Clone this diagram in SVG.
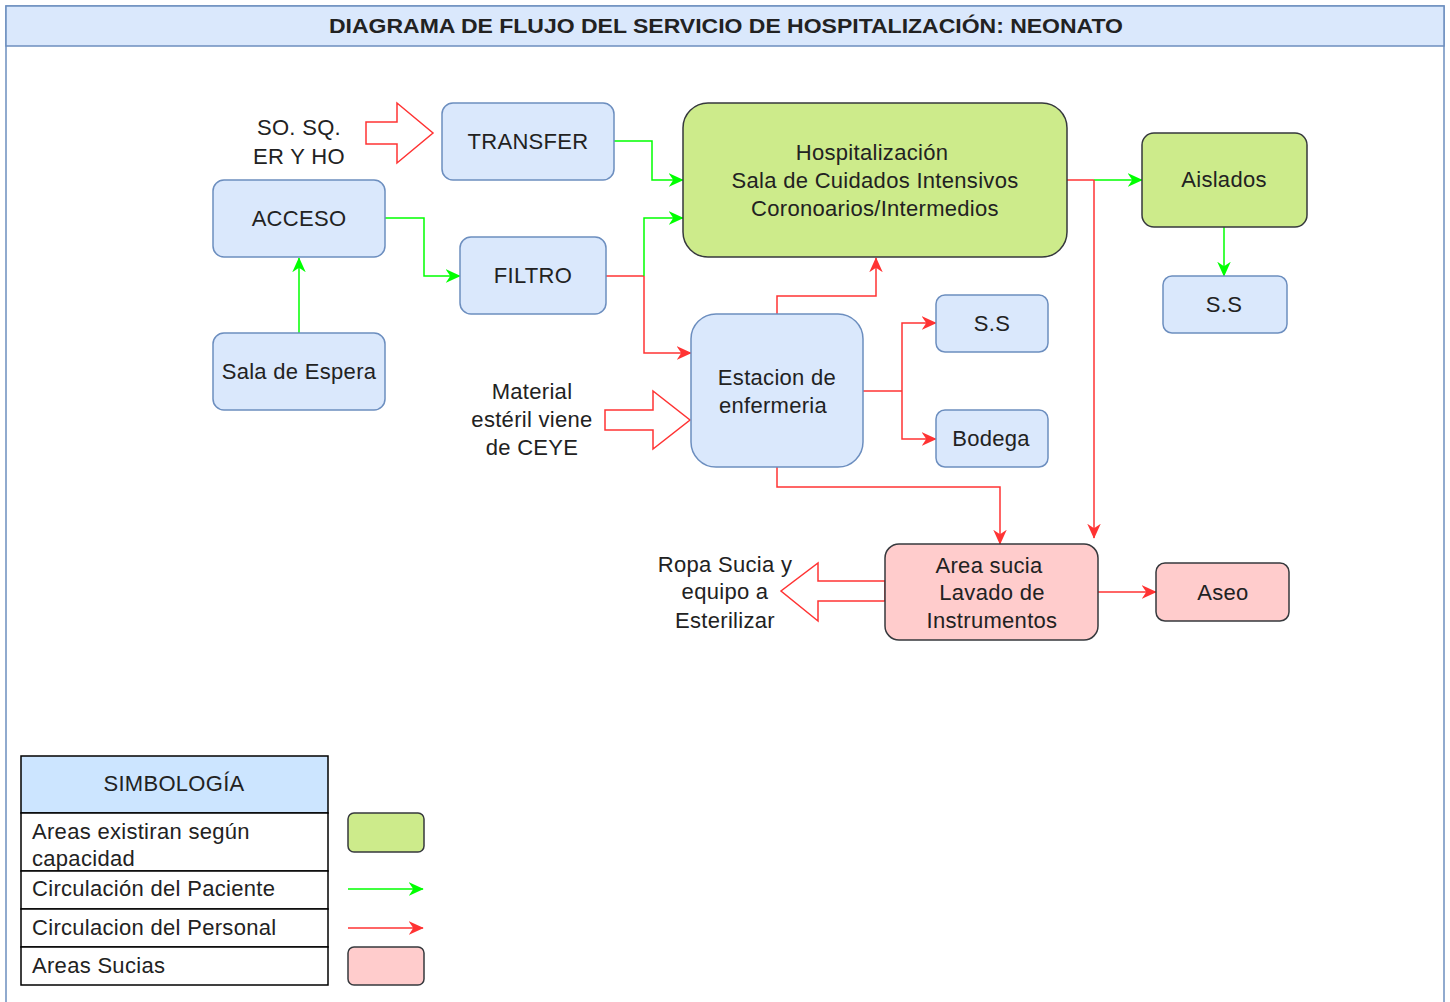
<svg xmlns="http://www.w3.org/2000/svg" width="1450" height="1002" viewBox="0 0 1450 1002">
<defs>
<marker id="ag" viewBox="0 0 10 10" refX="9.5" refY="5" markerWidth="15" markerHeight="15" markerUnits="userSpaceOnUse" orient="auto">
<path d="M0,0.5 L10,5 L0,9.5 L3,5 z" fill="#00ff00"/>
</marker>
<marker id="ar" viewBox="0 0 10 10" refX="9.5" refY="5" markerWidth="15" markerHeight="15" markerUnits="userSpaceOnUse" orient="auto">
<path d="M0,0.5 L10,5 L0,9.5 L3,5 z" fill="#ff3333"/>
</marker>
<style>
text{font-family:"Liberation Sans",Arial,sans-serif;font-size:22px;letter-spacing:0.3px;fill:#222;}
.c{text-anchor:middle;}
.blue{fill:#dae8fc;stroke:#6c8ebf;stroke-width:1.5;}
.green{fill:#cdeb8b;stroke:#36393d;stroke-width:1.5;}
.pink{fill:#ffcccc;stroke:#36393d;stroke-width:1.5;}
.g{fill:none;stroke:#00ff00;stroke-width:1.5;}
.r{fill:none;stroke:#ff3333;stroke-width:1.5;}
.ga{marker-end:url(#ag);}
.ra{marker-end:url(#ar);}
.big{fill:#ffffff;stroke:#ff3333;stroke-width:1.5;}
.cell{fill:#ffffff;stroke:#000;stroke-width:1.5;}
</style>
</defs>
<rect x="0" y="0" width="1450" height="1002" fill="#ffffff"/>
<g id="frame">
<rect x="6" y="6" width="1438" height="1020" fill="#ffffff" stroke="#6c8ebf" stroke-width="1.5"/>
<rect x="6" y="6" width="1438" height="40" fill="#dae8fc" stroke="#6c8ebf" stroke-width="1.5"/>
<text class="c" x="726" y="33" style="font-weight:bold;font-size:21px;letter-spacing:0" textLength="794" lengthAdjust="spacingAndGlyphs">DIAGRAMA DE FLUJO DEL SERVICIO DE HOSPITALIZACIÓN: NEONATO</text>
</g>
<g id="connectors">
<polyline class="g ga" points="614,141 652,141 652,180 683,180"/>
<polyline class="g ga" points="385,218 424,218 424,276 460,276"/>
<polyline class="r" points="606,276 644,276"/>
<polyline class="g ga" points="644,276 644,218 683,218"/>
<polyline class="r ra" points="644,276 644,353 691,353"/>
<polyline class="g ga" points="299,333 299,258"/>
<polyline class="r" points="1067,180 1094,180"/>
<polyline class="g ga" points="1094,180 1142,180"/>
<polyline class="r ra" points="1094,180 1094,538"/>
<polyline class="g ga" points="1224,227 1224,276"/>
<polyline class="r ra" points="777,314 777,296 876,296 876,258"/>
<polyline class="r" points="863,391 902,391"/>
<polyline class="r ra" points="902,391 902,323 936,323"/>
<polyline class="r ra" points="902,391 902,439 936,439"/>
<polyline class="r ra" points="777,467 777,487 1000,487 1000,544"/>
<polyline class="r ra" points="1098,592 1156,592"/>
<polygon class="big" points="366,122 397,122 397,103 433,133 397,163 397,144 366,144"/>
<polygon class="big" points="605,410 653,410 653,391 690,420 653,449 653,430 605,430"/>
<polygon class="big" points="885,581 818,581 818,563 781,591 818,621 818,601 885,601"/>
</g>
<g id="lbl-so">
<text class="c" x="299" y="135">SO. SQ.</text>
<text class="c" x="299" y="164">ER Y HO</text>
</g>
<g id="lbl-material">
<text class="c" x="532" y="399">Material</text>
<text class="c" x="532" y="427">estéril viene</text>
<text class="c" x="532" y="455">de CEYE</text>
</g>
<g id="lbl-ropa">
<text class="c" x="725" y="572">Ropa Sucia y</text>
<text class="c" x="725" y="599">equipo a</text>
<text class="c" x="725" y="628">Esterilizar</text>
</g>
<g id="transfer">
<rect class="blue" x="442" y="103" width="172" height="77" rx="11"/>
<text class="c" x="528" y="149">TRANSFER</text>
</g>
<g id="acceso">
<rect class="blue" x="213" y="180" width="172" height="77" rx="11"/>
<text class="c" x="299" y="226">ACCESO</text>
</g>
<g id="filtro">
<rect class="blue" x="460" y="237" width="146" height="77" rx="11"/>
<text class="c" x="533" y="283">FILTRO</text>
</g>
<g id="sala-espera">
<rect class="blue" x="213" y="333" width="172" height="77" rx="11"/>
<text class="c" x="299" y="379">Sala de Espera</text>
</g>
<g id="hospitalizacion">
<rect class="green" x="683" y="103" width="384" height="154" rx="25"/>
<text class="c" x="872" y="160">Hospitalización</text>
<text class="c" x="875" y="188">Sala de Cuidados Intensivos</text>
<text class="c" x="875" y="216">Coronoarios/Intermedios</text>
</g>
<g id="aislados">
<rect class="green" x="1142" y="133" width="165" height="94" rx="12"/>
<text class="c" x="1224" y="187">Aislados</text>
</g>
<g id="ss-right">
<rect class="blue" x="1163" y="276" width="124" height="57" rx="9"/>
<text class="c" x="1224" y="312">S.S</text>
</g>
<g id="estacion">
<rect class="blue" x="691" y="314" width="172" height="153" rx="25"/>
<text class="c" x="777" y="385">Estacion de</text>
<text class="c" x="773" y="413">enfermeria</text>
</g>
<g id="ss-mid">
<rect class="blue" x="936" y="295" width="112" height="57" rx="9"/>
<text class="c" x="992" y="331">S.S</text>
</g>
<g id="bodega">
<rect class="blue" x="936" y="410" width="112" height="57" rx="9"/>
<text class="c" x="991" y="446">Bodega</text>
</g>
<g id="area-sucia">
<rect class="pink" x="885" y="544" width="213" height="96" rx="14"/>
<text class="c" x="989" y="573">Area sucia</text>
<text class="c" x="992" y="600">Lavado de</text>
<text class="c" x="992" y="628">Instrumentos</text>
</g>
<g id="aseo">
<rect class="pink" x="1156" y="563" width="133" height="58" rx="9"/>
<text class="c" x="1223" y="600">Aseo</text>
</g>
<g id="legend">
<rect x="21" y="756" width="307" height="57" fill="#cce5ff" stroke="#000" stroke-width="1.5"/>
<text class="c" x="174" y="791">SIMBOLOGÍA</text>
<rect class="cell" x="21" y="813" width="307" height="58"/>
<text x="32" y="839">Areas existiran según</text>
<text x="32" y="866">capacidad</text>
<rect class="cell" x="21" y="871" width="307" height="38"/>
<text x="32" y="896">Circulación del Paciente</text>
<rect class="cell" x="21" y="909" width="307" height="38"/>
<text x="32" y="935">Circulacion del Personal</text>
<rect class="cell" x="21" y="947" width="307" height="38"/>
<text x="32" y="973">Areas Sucias</text>
<rect class="green" x="348" y="813" width="76" height="39" rx="6"/>
<line class="g ga" x1="348" y1="889" x2="423" y2="889"/>
<line class="r ra" x1="348" y1="928" x2="423" y2="928"/>
<rect class="pink" x="348" y="947" width="76" height="38" rx="6"/>
</g>
</svg>
